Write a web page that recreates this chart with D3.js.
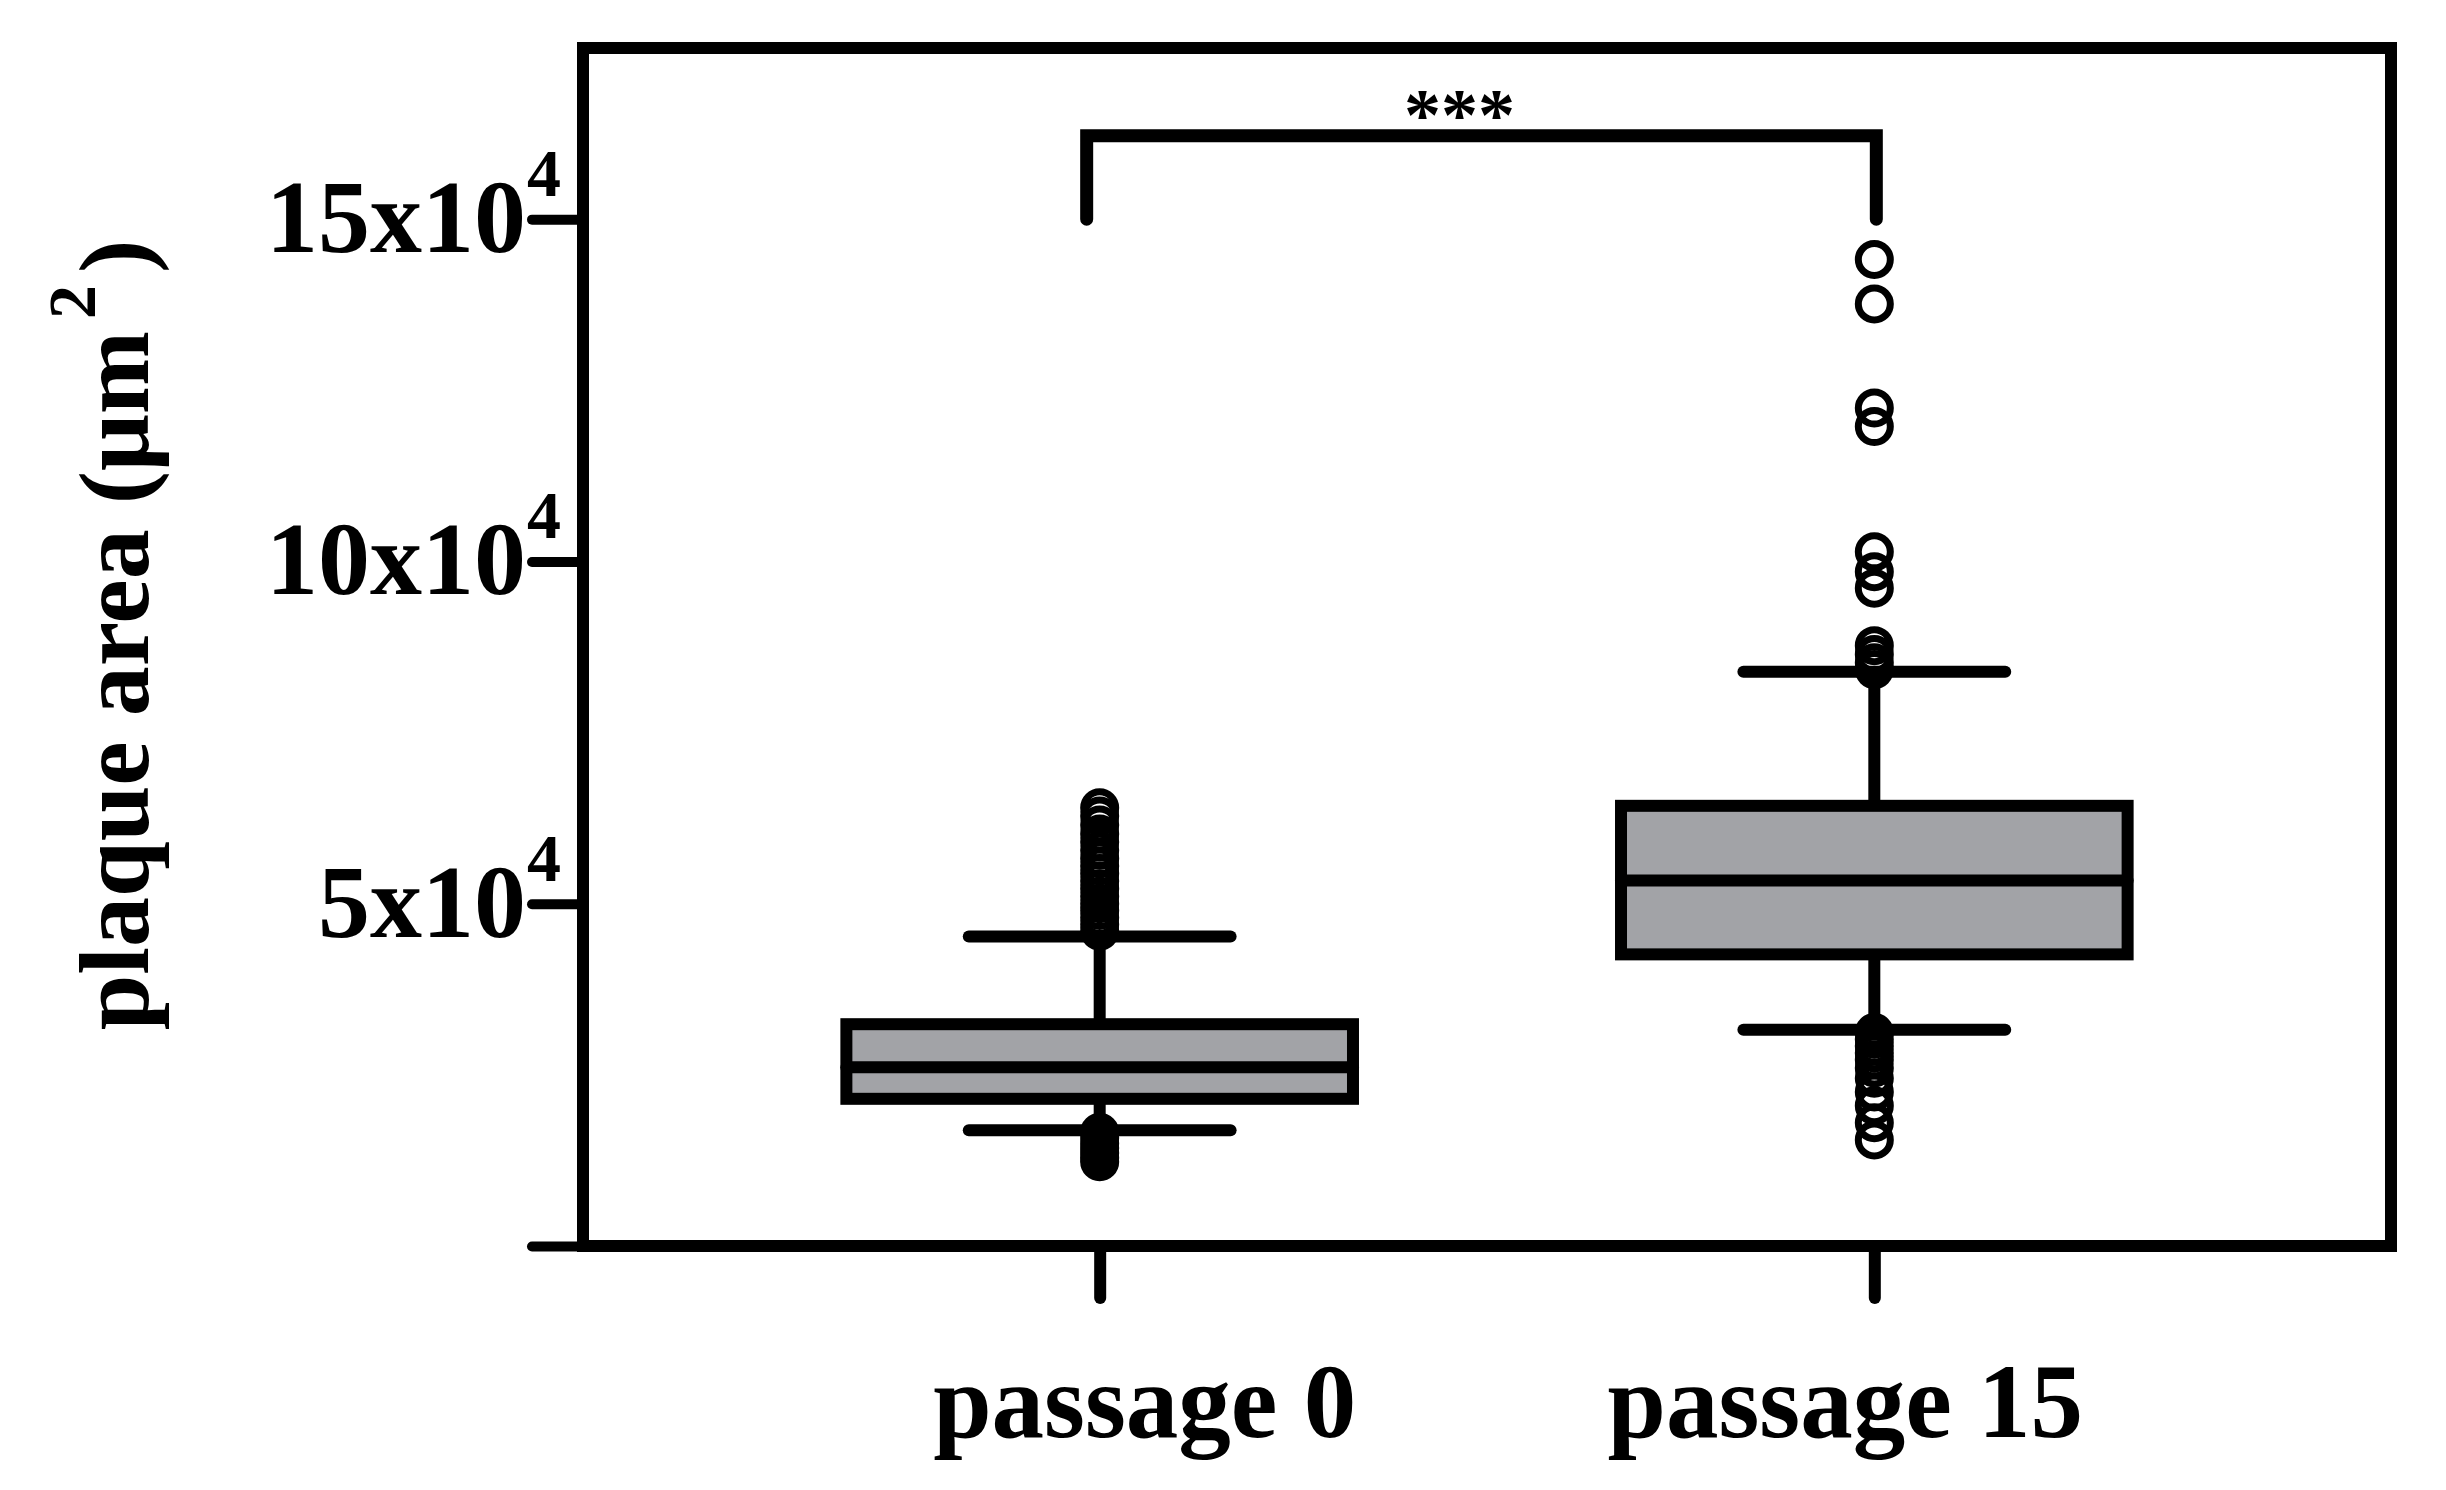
<!DOCTYPE html>
<html><head><meta charset="utf-8">
<script src="https://cdn.jsdelivr.net/npm/d3@7"></script>
<style>
html,body{margin:0;padding:0;background:#fff;}
svg{display:block;}
text{font-family:"Liberation Serif","Times New Roman",serif;font-weight:bold;fill:#000;}
</style></head><body>
<svg id="chart" width="2446" height="1490"></svg>
<script>
// ---- data (units of 10^4 µm²) ----
const categories = ["passage 0", "passage 15"];
const whiskerLow  = [1.69, 3.16];
const q1          = [2.15, 4.26];
const median      = [2.61, 5.34];
const q3          = [3.24, 6.43];
const whiskerHigh = [4.52, 8.39];
const outliersP0  = [6.40, 6.28, 6.15, 6.02, 5.90, 5.78, 5.66, 5.55, 5.44, 5.33, 5.22, 5.11, 5.00, 4.90, 4.80, 4.70, 4.60,
                     1.66, 1.58, 1.50, 1.43, 1.36, 1.29, 1.23];
const outliersP15 = [14.41, 13.76, 12.24, 11.97, 10.14, 9.85, 9.61, 8.77, 8.64, 8.52, 8.42,
                     3.12, 3.02, 2.92, 2.82, 2.72, 2.60, 2.45, 2.25, 2.05, 1.80, 1.55];
const outliers = [outliersP0, outliersP15];
const yTicks = [5, 10, 15];
const yTickLabels = ["5x10", "10x10", "15x10"];
const yTickExp = "4";
const yTitleMain = "plaque area (μm";
const yTitleSup = "2";
const yTitleEnd = ")";
const sigFrom = 15, sigTop = 16.22, sigLabel = "***";

// ---- layout ----
const svg = d3.select("#chart");
const plot = {left: 583, right: 2391, top: 48, bottom: 1246};
const y = d3.scaleLinear().domain([0, 17.5]).range([plot.bottom, plot.top]);
const x = d3.scalePoint().domain(categories).range([plot.left, plot.right]).padding(0.667);
const step = x.step();
const boxW = step * 0.654, capW = step * 0.338;
const SW = 12;

// frame
svg.append("path")
  .attr("d", `M${plot.left},${plot.top}H${plot.right}V${plot.bottom}H${plot.left}Z`)
  .attr("fill", "none").attr("stroke", "#000").attr("stroke-width", SW)
  .attr("stroke-linejoin", "miter");

// y axis ticks
const yAxis = svg.append("g").attr("transform", `translate(${plot.left},0)`)
  .call(d3.axisLeft(y).tickValues([0].concat(yTicks)).tickSize(51).tickFormat(""));
yAxis.select(".domain").remove();
yAxis.selectAll(".tick line").attr("stroke", "#000").attr("stroke-width", 10).attr("stroke-linecap", "round");

// y tick labels
yTicks.forEach((v, i) => {
  svg.append("text").attr("x", 526).attr("y", y(v) + 33)
    .attr("text-anchor", "end").attr("font-size", 104).text(yTickLabels[i]);
  svg.append("text").attr("x", 527).attr("y", y(v) - 23)
    .attr("text-anchor", "start").attr("font-size", 68).text(yTickExp);
});

// x axis ticks
const xAxis = svg.append("g").attr("transform", `translate(0,${plot.bottom})`)
  .call(d3.axisBottom(x).tickSize(52).tickFormat(""));
xAxis.select(".domain").remove();
xAxis.selectAll(".tick line").attr("stroke", "#000").attr("stroke-width", SW).attr("stroke-linecap", "round");

// x labels
const xLabelDx = [45, -29];
categories.forEach((c, i) => {
  svg.append("text").attr("x", x(c) + xLabelDx[i]).attr("y", 1437)
    .attr("text-anchor", "middle").attr("font-size", 105).text(c);
});

// y title
const yt = svg.append("text").attr("transform", "translate(148,635) rotate(-90)")
  .attr("text-anchor", "middle").attr("font-size", 100);
yt.append("tspan").text(yTitleMain);
yt.append("tspan").attr("dx", 12).attr("dy", -53).attr("font-size", 68).text(yTitleSup);
yt.append("tspan").attr("dx", 12).attr("dy", 53).attr("font-size", 100).text(yTitleEnd);

// boxes
const g = svg.append("g");
categories.forEach((c, i) => {
  const cx = x(c);
  // whiskers
  g.append("line").attr("x1", cx).attr("x2", cx).attr("y1", y(q3[i])).attr("y2", y(whiskerHigh[i]))
    .attr("stroke", "#000").attr("stroke-width", SW);
  g.append("line").attr("x1", cx).attr("x2", cx).attr("y1", y(q1[i])).attr("y2", y(whiskerLow[i]))
    .attr("stroke", "#000").attr("stroke-width", SW);
  [whiskerHigh[i], whiskerLow[i]].forEach(v => {
    g.append("line").attr("x1", cx - capW / 2).attr("x2", cx + capW / 2).attr("y1", y(v)).attr("y2", y(v))
      .attr("stroke", "#000").attr("stroke-width", SW).attr("stroke-linecap", "round");
  });
  g.append("rect").attr("x", cx - boxW / 2).attr("width", boxW)
    .attr("y", y(q3[i])).attr("height", y(q1[i]) - y(q3[i]))
    .attr("fill", "#a2a3a7").attr("stroke", "#000").attr("stroke-width", SW);
  g.append("line").attr("x1", cx - boxW / 2).attr("x2", cx + boxW / 2).attr("y1", y(median[i])).attr("y2", y(median[i]))
    .attr("stroke", "#000").attr("stroke-width", SW).attr("stroke-linecap", "round");
  // outliers
  g.selectAll(null).data(outliers[i]).enter().append("circle")
    .attr("cx", cx).attr("cy", d => y(d)).attr("r", 16)
    .attr("fill", "none").attr("stroke", "#000").attr("stroke-width", 7);
});

// significance bracket
const bx0 = x(categories[0]) - 13, bx1 = x(categories[1]) + 2;
svg.append("path")
  .attr("d", `M${bx0},${y(sigFrom)}V${y(sigTop)}H${bx1}V${y(sigFrom)}`)
  .attr("fill", "none").attr("stroke", "#000").attr("stroke-width", 13)
  .attr("stroke-linecap", "round").attr("stroke-linejoin", "miter");
svg.append("text").attr("x", (bx0 + bx1) / 2 - 22).attr("y", 140)
  .attr("text-anchor", "middle").attr("font-size", 74).text(sigLabel);
</script>
</body></html>
